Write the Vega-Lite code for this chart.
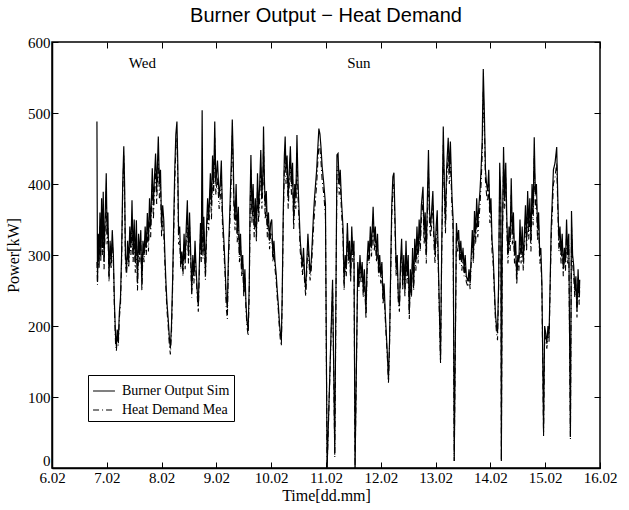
{
"$schema":"https://vega.github.io/schema/vega-lite/v6.json",
"width":548,"height":426,
"autosize":"none",
"padding":{"left":52,"top":42,"right":29,"bottom":42},
"title":{"text":"Burner Output − Heat Demand","font":"Liberation Sans","fontSize":20,"fontWeight":"normal","color":"black","offset":9},
"config":{"font":"Liberation Serif","view":{"stroke":"black","strokeWidth":1.5},
"axis":{"grid":false,"domainColor":"black","domainWidth":1.5,"tickColor":"black","tickWidth":1,"labelColor":"black","labelFont":"Liberation Serif","labelFontSize":15,"titleFont":"Liberation Serif","titleFontSize":16,"titleFontWeight":"normal","titleColor":"black"}},
"datasets":{
"series":[
{"t":6.82,"b":488,"h":290},{"t":6.83,"b":262,"h":258},{"t":6.845,"b":330,"h":318},{"t":6.86,"b":290,"h":282},{"t":6.875,"b":360,"h":340},{"t":6.89,"b":300,"h":290},{"t":6.905,"b":380,"h":355},{"t":6.92,"b":310,"h":300},{"t":6.935,"b":389,"h":360},{"t":6.95,"b":290,"h":280},{"t":6.965,"b":340,"h":325},{"t":6.99,"b":415,"h":390},{"t":7.005,"b":330,"h":315},{"t":7.02,"b":360,"h":340},{"t":7.04,"b":270,"h":262},{"t":7.06,"b":320,"h":305},{"t":7.08,"b":290,"h":280},{"t":7.1,"b":335,"h":318},{"t":7.12,"b":300,"h":288},{"t":7.14,"b":230,"h":222},{"t":7.16,"b":185,"h":175},{"t":7.175,"b":171,"h":165},{"t":7.19,"b":195,"h":185},{"t":7.21,"b":180,"h":172},{"t":7.23,"b":220,"h":212},{"t":7.25,"b":240,"h":230},{"t":7.27,"b":300,"h":288},{"t":7.29,"b":400,"h":385},{"t":7.31,"b":453,"h":440},{"t":7.325,"b":400,"h":385},{"t":7.34,"b":300,"h":290},{"t":7.36,"b":280,"h":270},{"t":7.38,"b":320,"h":305},{"t":7.4,"b":290,"h":282},{"t":7.42,"b":340,"h":320},{"t":7.44,"b":310,"h":300},{"t":7.46,"b":377,"h":350},{"t":7.48,"b":300,"h":290},{"t":7.5,"b":350,"h":330},{"t":7.52,"b":290,"h":275},{"t":7.54,"b":349,"h":325},{"t":7.56,"b":260,"h":250},{"t":7.58,"b":330,"h":315},{"t":7.6,"b":300,"h":290},{"t":7.62,"b":335,"h":320},{"t":7.64,"b":258,"h":250},{"t":7.66,"b":320,"h":305},{"t":7.68,"b":300,"h":290},{"t":7.7,"b":340,"h":320},{"t":7.72,"b":310,"h":300},{"t":7.74,"b":359,"h":340},{"t":7.76,"b":320,"h":305},{"t":7.78,"b":380,"h":360},{"t":7.8,"b":340,"h":325},{"t":7.83,"b":422,"h":400},{"t":7.85,"b":370,"h":350},{"t":7.87,"b":410,"h":390},{"t":7.89,"b":443,"h":420},{"t":7.91,"b":390,"h":372},{"t":7.94,"b":467,"h":440},{"t":7.96,"b":400,"h":380},{"t":7.98,"b":420,"h":400},{"t":8.0,"b":340,"h":325},{"t":8.02,"b":370,"h":350},{"t":8.04,"b":349,"h":330},{"t":8.06,"b":300,"h":288},{"t":8.08,"b":260,"h":250},{"t":8.1,"b":230,"h":220},{"t":8.12,"b":210,"h":200},{"t":8.14,"b":185,"h":175},{"t":8.16,"b":169,"h":160},{"t":8.18,"b":200,"h":190},{"t":8.2,"b":260,"h":250},{"t":8.22,"b":340,"h":325},{"t":8.24,"b":420,"h":400},{"t":8.26,"b":470,"h":450},{"t":8.28,"b":488,"h":465},{"t":8.295,"b":430,"h":410},{"t":8.31,"b":330,"h":315},{"t":8.33,"b":340,"h":320},{"t":8.35,"b":290,"h":280},{"t":8.37,"b":305,"h":295},{"t":8.39,"b":280,"h":270},{"t":8.41,"b":330,"h":315},{"t":8.43,"b":290,"h":280},{"t":8.45,"b":340,"h":322},{"t":8.47,"b":377,"h":350},{"t":8.49,"b":300,"h":288},{"t":8.51,"b":360,"h":340},{"t":8.53,"b":306,"h":295},{"t":8.55,"b":250,"h":240},{"t":8.57,"b":300,"h":290},{"t":8.59,"b":270,"h":260},{"t":8.61,"b":320,"h":305},{"t":8.63,"b":280,"h":270},{"t":8.65,"b":250,"h":242},{"t":8.67,"b":228,"h":220},{"t":8.69,"b":290,"h":280},{"t":8.71,"b":345,"h":330},{"t":8.725,"b":300,"h":290},{"t":8.74,"b":504,"h":350},{"t":8.755,"b":305,"h":295},{"t":8.77,"b":354,"h":335},{"t":8.79,"b":300,"h":290},{"t":8.8,"b":274,"h":265},{"t":8.82,"b":340,"h":325},{"t":8.84,"b":380,"h":360},{"t":8.86,"b":350,"h":335},{"t":8.89,"b":415,"h":395},{"t":8.91,"b":370,"h":350},{"t":8.93,"b":440,"h":420},{"t":8.95,"b":400,"h":385},{"t":8.97,"b":488,"h":465},{"t":8.99,"b":400,"h":385},{"t":9.02,"b":433,"h":410},{"t":9.05,"b":382,"h":365},{"t":9.07,"b":400,"h":380},{"t":9.09,"b":433,"h":410},{"t":9.11,"b":360,"h":345},{"t":9.14,"b":315,"h":300},{"t":9.16,"b":280,"h":270},{"t":9.18,"b":240,"h":225},{"t":9.2,"b":225,"h":210},{"t":9.22,"b":300,"h":288},{"t":9.24,"b":350,"h":332},{"t":9.26,"b":400,"h":380},{"t":9.275,"b":440,"h":420},{"t":9.29,"b":491,"h":470},{"t":9.305,"b":443,"h":425},{"t":9.32,"b":380,"h":365},{"t":9.34,"b":350,"h":335},{"t":9.36,"b":400,"h":380},{"t":9.38,"b":330,"h":318},{"t":9.4,"b":368,"h":350},{"t":9.42,"b":300,"h":290},{"t":9.44,"b":330,"h":315},{"t":9.46,"b":280,"h":270},{"t":9.48,"b":300,"h":288},{"t":9.5,"b":250,"h":240},{"t":9.52,"b":280,"h":268},{"t":9.54,"b":230,"h":222},{"t":9.56,"b":205,"h":198},{"t":9.58,"b":195,"h":186},{"t":9.6,"b":260,"h":250},{"t":9.615,"b":378,"h":355},{"t":9.63,"b":441,"h":420},{"t":9.65,"b":360,"h":345},{"t":9.67,"b":400,"h":380},{"t":9.69,"b":340,"h":325},{"t":9.71,"b":380,"h":360},{"t":9.73,"b":330,"h":318},{"t":9.75,"b":415,"h":395},{"t":9.77,"b":360,"h":345},{"t":9.79,"b":400,"h":380},{"t":9.81,"b":448,"h":425},{"t":9.83,"b":380,"h":365},{"t":9.85,"b":420,"h":400},{"t":9.86,"b":481,"h":455},{"t":9.875,"b":410,"h":395},{"t":9.89,"b":368,"h":350},{"t":9.91,"b":390,"h":370},{"t":9.93,"b":340,"h":325},{"t":9.95,"b":360,"h":342},{"t":9.97,"b":320,"h":308},{"t":9.99,"b":345,"h":330},{"t":10.01,"b":350,"h":332},{"t":10.03,"b":300,"h":290},{"t":10.05,"b":320,"h":305},{"t":10.07,"b":290,"h":280},{"t":10.09,"b":274,"h":265},{"t":10.11,"b":250,"h":240},{"t":10.13,"b":230,"h":222},{"t":10.15,"b":205,"h":196},{"t":10.17,"b":187,"h":178},{"t":10.185,"b":180,"h":172},{"t":10.2,"b":240,"h":230},{"t":10.22,"b":360,"h":345},{"t":10.24,"b":440,"h":420},{"t":10.255,"b":467,"h":445},{"t":10.27,"b":420,"h":400},{"t":10.29,"b":440,"h":420},{"t":10.31,"b":380,"h":365},{"t":10.33,"b":420,"h":400},{"t":10.35,"b":453,"h":430},{"t":10.37,"b":400,"h":385},{"t":10.39,"b":430,"h":410},{"t":10.41,"b":349,"h":335},{"t":10.43,"b":400,"h":380},{"t":10.45,"b":380,"h":365},{"t":10.47,"b":469,"h":445},{"t":10.49,"b":400,"h":380},{"t":10.51,"b":360,"h":345},{"t":10.53,"b":320,"h":305},{"t":10.55,"b":300,"h":290},{"t":10.57,"b":284,"h":272},{"t":10.59,"b":310,"h":298},{"t":10.61,"b":270,"h":260},{"t":10.63,"b":251,"h":242},{"t":10.65,"b":290,"h":278},{"t":10.67,"b":330,"h":315},{"t":10.69,"b":300,"h":288},{"t":10.71,"b":274,"h":264},{"t":10.73,"b":290,"h":278},{"t":10.75,"b":320,"h":305},{"t":10.77,"b":354,"h":335},{"t":10.79,"b":380,"h":360},{"t":10.81,"b":400,"h":380},{"t":10.83,"b":420,"h":400},{"t":10.85,"b":450,"h":430},{"t":10.87,"b":478,"h":455},{"t":10.89,"b":470,"h":450},{"t":10.91,"b":450,"h":430},{"t":10.93,"b":424,"h":405},{"t":10.96,"b":400,"h":385},{"t":10.99,"b":372,"h":355},{"t":11.02,"b":0,"h":0},{"t":11.12,"b":265,"h":255},{"t":11.16,"b":21,"h":15},{"t":11.2,"b":441,"h":420},{"t":11.22,"b":443,"h":425},{"t":11.24,"b":400,"h":385},{"t":11.26,"b":420,"h":405},{"t":11.28,"b":380,"h":365},{"t":11.31,"b":340,"h":325},{"t":11.33,"b":260,"h":250},{"t":11.35,"b":300,"h":290},{"t":11.37,"b":280,"h":270},{"t":11.39,"b":345,"h":330},{"t":11.41,"b":300,"h":288},{"t":11.43,"b":320,"h":305},{"t":11.45,"b":270,"h":262},{"t":11.47,"b":340,"h":325},{"t":11.49,"b":300,"h":290},{"t":11.51,"b":320,"h":305},{"t":11.53,"b":0,"h":0},{"t":11.58,"b":290,"h":280},{"t":11.6,"b":260,"h":250},{"t":11.62,"b":300,"h":290},{"t":11.64,"b":270,"h":260},{"t":11.66,"b":290,"h":278},{"t":11.68,"b":250,"h":240},{"t":11.7,"b":280,"h":270},{"t":11.73,"b":218,"h":210},{"t":11.75,"b":290,"h":278},{"t":11.77,"b":320,"h":305},{"t":11.79,"b":300,"h":288},{"t":11.81,"b":340,"h":325},{"t":11.83,"b":310,"h":298},{"t":11.86,"b":368,"h":345},{"t":11.88,"b":320,"h":305},{"t":11.9,"b":340,"h":325},{"t":11.92,"b":300,"h":290},{"t":11.94,"b":330,"h":315},{"t":11.96,"b":280,"h":270},{"t":11.98,"b":300,"h":288},{"t":12.0,"b":270,"h":260},{"t":12.02,"b":290,"h":278},{"t":12.04,"b":240,"h":230},{"t":12.06,"b":260,"h":250},{"t":12.08,"b":220,"h":212},{"t":12.1,"b":190,"h":182},{"t":12.12,"b":160,"h":155},{"t":12.14,"b":124,"h":120},{"t":12.16,"b":181,"h":175},{"t":12.18,"b":280,"h":268},{"t":12.2,"b":370,"h":355},{"t":12.22,"b":410,"h":395},{"t":12.24,"b":416,"h":400},{"t":12.26,"b":350,"h":335},{"t":12.28,"b":280,"h":270},{"t":12.3,"b":300,"h":288},{"t":12.32,"b":240,"h":232},{"t":12.34,"b":228,"h":220},{"t":12.36,"b":290,"h":280},{"t":12.38,"b":323,"h":305},{"t":12.4,"b":260,"h":250},{"t":12.42,"b":300,"h":288},{"t":12.44,"b":250,"h":242},{"t":12.46,"b":320,"h":305},{"t":12.48,"b":270,"h":260},{"t":12.5,"b":300,"h":288},{"t":12.52,"b":217,"h":210},{"t":12.54,"b":280,"h":268},{"t":12.56,"b":250,"h":240},{"t":12.58,"b":310,"h":298},{"t":12.6,"b":260,"h":250},{"t":12.62,"b":323,"h":305},{"t":12.64,"b":290,"h":278},{"t":12.66,"b":340,"h":320},{"t":12.68,"b":300,"h":288},{"t":12.7,"b":350,"h":330},{"t":12.72,"b":320,"h":305},{"t":12.74,"b":370,"h":350},{"t":12.77,"b":396,"h":375},{"t":12.79,"b":330,"h":315},{"t":12.81,"b":360,"h":340},{"t":12.83,"b":300,"h":288},{"t":12.85,"b":380,"h":360},{"t":12.87,"b":448,"h":420},{"t":12.89,"b":360,"h":340},{"t":12.91,"b":340,"h":325},{"t":12.93,"b":365,"h":345},{"t":12.95,"b":390,"h":370},{"t":12.97,"b":330,"h":315},{"t":12.99,"b":300,"h":288},{"t":13.01,"b":340,"h":325},{"t":13.03,"b":363,"h":345},{"t":13.05,"b":290,"h":278},{"t":13.07,"b":220,"h":212},{"t":13.09,"b":152,"h":148},{"t":13.11,"b":300,"h":288},{"t":13.14,"b":481,"h":455},{"t":13.16,"b":400,"h":385},{"t":13.18,"b":345,"h":330},{"t":13.2,"b":420,"h":400},{"t":13.23,"b":465,"h":440},{"t":13.25,"b":420,"h":400},{"t":13.27,"b":460,"h":435},{"t":13.3,"b":380,"h":365},{"t":13.32,"b":350,"h":335},{"t":13.34,"b":10,"h":10},{"t":13.38,"b":345,"h":330},{"t":13.4,"b":320,"h":305},{"t":13.42,"b":335,"h":320},{"t":13.44,"b":300,"h":288},{"t":13.46,"b":320,"h":305},{"t":13.48,"b":290,"h":278},{"t":13.5,"b":310,"h":298},{"t":13.52,"b":280,"h":270},{"t":13.54,"b":300,"h":288},{"t":13.56,"b":270,"h":262},{"t":13.59,"b":263,"h":255},{"t":13.61,"b":280,"h":270},{"t":13.63,"b":260,"h":252},{"t":13.65,"b":300,"h":288},{"t":13.67,"b":335,"h":318},{"t":13.69,"b":300,"h":288},{"t":13.71,"b":362,"h":340},{"t":13.73,"b":330,"h":315},{"t":13.75,"b":380,"h":360},{"t":13.77,"b":340,"h":325},{"t":13.79,"b":370,"h":350},{"t":13.81,"b":390,"h":370},{"t":13.83,"b":420,"h":400},{"t":13.85,"b":460,"h":440},{"t":13.87,"b":562,"h":530},{"t":13.89,"b":500,"h":480},{"t":13.91,"b":420,"h":405},{"t":13.93,"b":400,"h":385},{"t":13.95,"b":390,"h":375},{"t":13.97,"b":420,"h":400},{"t":13.99,"b":360,"h":345},{"t":14.01,"b":380,"h":362},{"t":14.03,"b":320,"h":305},{"t":14.05,"b":300,"h":288},{"t":14.07,"b":260,"h":250},{"t":14.09,"b":220,"h":212},{"t":14.11,"b":200,"h":192},{"t":14.13,"b":190,"h":180},{"t":14.15,"b":260,"h":250},{"t":14.17,"b":430,"h":410},{"t":14.19,"b":380,"h":365},{"t":14.2,"b":10,"h":10},{"t":14.215,"b":300,"h":288},{"t":14.24,"b":452,"h":430},{"t":14.26,"b":380,"h":365},{"t":14.28,"b":430,"h":410},{"t":14.3,"b":350,"h":335},{"t":14.32,"b":300,"h":288},{"t":14.34,"b":340,"h":322},{"t":14.36,"b":320,"h":305},{"t":14.38,"b":408,"h":385},{"t":14.4,"b":330,"h":315},{"t":14.42,"b":360,"h":340},{"t":14.44,"b":300,"h":288},{"t":14.46,"b":320,"h":305},{"t":14.48,"b":268,"h":258},{"t":14.5,"b":300,"h":288},{"t":14.52,"b":290,"h":278},{"t":14.54,"b":350,"h":330},{"t":14.56,"b":300,"h":288},{"t":14.58,"b":340,"h":322},{"t":14.6,"b":290,"h":278},{"t":14.62,"b":330,"h":315},{"t":14.64,"b":370,"h":350},{"t":14.66,"b":320,"h":305},{"t":14.68,"b":390,"h":370},{"t":14.7,"b":340,"h":322},{"t":14.72,"b":380,"h":360},{"t":14.74,"b":320,"h":305},{"t":14.76,"b":400,"h":380},{"t":14.78,"b":360,"h":342},{"t":14.8,"b":466,"h":440},{"t":14.82,"b":385,"h":365},{"t":14.84,"b":400,"h":380},{"t":14.86,"b":337,"h":320},{"t":14.88,"b":360,"h":342},{"t":14.9,"b":300,"h":288},{"t":14.92,"b":310,"h":295},{"t":14.94,"b":260,"h":250},{"t":14.97,"b":51,"h":45},{"t":14.99,"b":200,"h":190},{"t":15.01,"b":190,"h":180},{"t":15.03,"b":175,"h":168},{"t":15.05,"b":200,"h":190},{"t":15.07,"b":185,"h":178},{"t":15.09,"b":260,"h":250},{"t":15.11,"b":340,"h":325},{"t":15.13,"b":380,"h":360},{"t":15.15,"b":420,"h":400},{"t":15.18,"b":430,"h":410},{"t":15.21,"b":452,"h":430},{"t":15.23,"b":380,"h":365},{"t":15.25,"b":320,"h":305},{"t":15.27,"b":340,"h":322},{"t":15.29,"b":300,"h":288},{"t":15.31,"b":330,"h":315},{"t":15.33,"b":280,"h":270},{"t":15.35,"b":310,"h":298},{"t":15.37,"b":290,"h":278},{"t":15.39,"b":350,"h":330},{"t":15.41,"b":300,"h":288},{"t":15.43,"b":330,"h":315},{"t":15.46,"b":44,"h":40},{"t":15.48,"b":362,"h":340},{"t":15.5,"b":300,"h":288},{"t":15.52,"b":285,"h":272},{"t":15.54,"b":250,"h":240},{"t":15.56,"b":270,"h":260},{"t":15.58,"b":220,"h":212},{"t":15.6,"b":280,"h":268},{"t":15.62,"b":240,"h":230},{"t":15.63,"b":265,"h":255}
],
"notes":[{"lbl":"Wed","t":7.65,"v":570},{"lbl":"Sun","t":11.6,"v":570}]
},
"layer":[
{"data":{"name":"series"},
"layer":[
{"mark":{"type":"line","color":"black","strokeWidth":1.1},
"encoding":{
"x":{"field":"t","type":"quantitative","scale":{"domain":[6,16],"nice":false,"zero":false},"axis":{"title":"Time[dd.mm]","values":[6,7,8,9,10,11,12,13,14,15,16],"labelExpr":"datum.value + '.02'","tickSize":-6,"labelPadding":8,"titlePadding":2,"labelFlush":false}},
"y":{"field":"h","type":"quantitative","scale":{"domain":[0,600],"nice":false},"axis":{"title":"Power[kW]","values":[0,100,200,300,400,500,600],"tickSize":-6,"labelPadding":8,"titlePadding":6,"labelBaseline":{"condition":{"test":"datum.value == 0","value":"bottom"},"value":"middle"}}},
"strokeDash":{"datum":"Heat Demand Mea","type":"nominal","scale":{"domain":["Burner Output Sim","Heat Demand Mea"],"range":[[1,0],[6,3,1,3]]},
"legend":{"title":null,"orient":"none","legendX":36,"legendY":333,"symbolType":"stroke","symbolSize":480,"symbolStrokeColor":"black","symbolStrokeWidth":1.2,"labelFont":"Liberation Serif","labelFontSize":14,"labelColor":"black","labelOffset":6,"strokeColor":"black","padding":4,"rowPadding":0,"fillColor":"white"}}
}},
{"mark":{"type":"line","color":"black","strokeWidth":1.2},
"encoding":{
"x":{"field":"t","type":"quantitative"},
"y":{"field":"b","type":"quantitative"},
"strokeDash":{"datum":"Burner Output Sim","type":"nominal"}
}}
]},
{"data":{"name":"notes"},
"mark":{"type":"text","font":"Liberation Serif","fontSize":15,"color":"black","align":"center","baseline":"middle"},
"encoding":{
"x":{"field":"t","type":"quantitative","axis":{"orient":"top","labels":false,"title":null,"domain":false,"values":[6,7,8,9,10,11,12,13,14,15,16],"tickSize":-6}},
"y":{"field":"v","type":"quantitative","axis":{"orient":"right","labels":false,"title":null,"domain":false,"values":[0,100,200,300,400,500,600],"tickSize":-6}},
"text":{"field":"lbl"}
}}
],
"resolve":{"axis":{"x":"independent","y":"independent"}}
}
